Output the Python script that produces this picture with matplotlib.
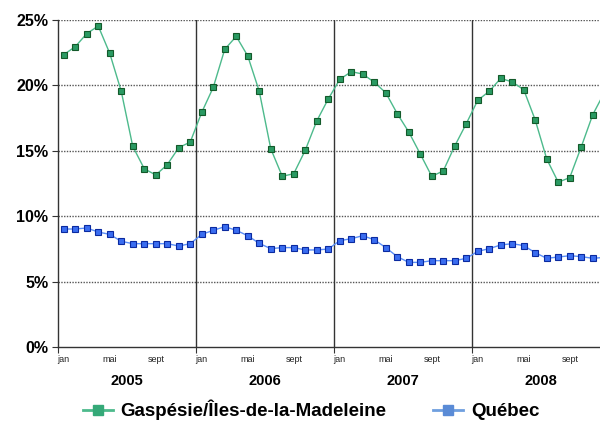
import numpy as np
import matplotlib
matplotlib.use('Agg')
import matplotlib.pyplot as plt
from matplotlib.lines import Line2D

plt.rcParams['font.family'] = ['Liberation Sans', 'DejaVu Sans']

# monthly rates, jan 2005 to dec 2008 (%)
years = ['2005', '2006', '2007', '2008']
month_labels = ['jan', 'mai', 'sept']
gaspesie = [22.35, 22.96, 23.96, 24.54, 22.45, 19.55, 15.34, 13.63, 13.15, 13.94, 15.24, 15.67,
            17.94, 19.85, 22.76, 23.75, 22.25, 19.55, 15.16, 13.05, 13.25, 15.04, 17.28, 18.96,
            20.46, 21.05, 20.87, 20.24, 19.44, 17.84, 16.44, 14.76, 13.05, 13.46, 15.37, 17.07,
            18.86, 19.55, 20.54, 20.26, 19.67, 17.35, 14.37, 12.6, 12.95, 15.3, 17.76, 19.44]
quebec = [9.02, 9.02, 9.1, 8.79, 8.61, 8.08, 7.9, 7.9, 7.9, 7.9, 7.72, 7.9,
          8.61, 8.92, 9.2, 8.92, 8.51, 7.92, 7.52, 7.6, 7.6, 7.42, 7.42, 7.49,
          8.13, 8.28, 8.51, 8.2, 7.6, 6.91, 6.47, 6.47, 6.6, 6.6, 6.6, 6.78,
          7.31, 7.52, 7.8, 7.9, 7.75, 7.21, 6.78, 6.88, 6.98, 6.91, 6.78, 6.85]

x = np.arange(len(gaspesie))

fig = plt.figure(figsize=(6.0, 4.21), dpi=100)
ax = fig.add_axes([58/600, 74/421, 552/600, 327/421])

# grid
for v in [5, 10, 15, 20, 25]:
    ax.axhline(v, color='#555555', lw=1, ls=(0, (1, 1)), zorder=1)
for b in [11.5, 23.5, 35.5]:
    ax.axvline(b, color='#333333', lw=1, zorder=1)

ax.plot(x, gaspesie, color='#4dba8c', lw=1, marker='s', ms=4.5,
        mfc='#2a9a63', mec='#135a2a', mew=0.8, zorder=3, clip_on=True)
ax.plot(x, quebec, color='#5b8ff9', lw=1, marker='s', ms=4.5,
        mfc='#3a6df0', mec='#0b2aa0', mew=0.8, zorder=3)

ax.set_xlim(-0.5, 47.5)
ax.set_ylim(0, 25)
ax.set_yticks([0, 5, 10, 15, 20, 25])
ax.set_yticklabels(['0%', '5%', '10%', '15%', '20%', '25%'], fontsize=11.5, fontweight='bold')
ax.tick_params(axis='y', length=4, color='#333333', pad=3)

ax.set_xticks([-0.5, 11.5, 23.5, 35.5])
ax.set_xticklabels([])
ax.tick_params(axis='x', which='major', length=4, color='#333333')
minor = [12 * i + m for i in range(4) for m in (0, 4, 8)]
ax.set_xticks(minor, minor=True)
ax.set_xticklabels(month_labels * 4, minor=True, fontsize=6.5, color='#222222')
ax.tick_params(axis='x', which='minor', length=0, pad=6)

for i, yr in enumerate(years):
    ax.text(12 * i + 5.5, -0.105, yr, transform=ax.get_xaxis_transform(),
            ha='center', va='center', fontsize=10.5, fontweight='bold')

for s in ['top', 'right']:
    ax.spines[s].set_visible(False)
for s in ['left', 'bottom']:
    ax.spines[s].set_color('#333333')
    ax.spines[s].set_linewidth(1)

handles = [Line2D([], [], color='#4dba8c', lw=2, marker='s', ms=6.5, mfc='#35a978', mec='#35a978'),
           Line2D([], [], color='#6f9fdf', lw=2, marker='s', ms=6.5, mfc='#5a8bd6', mec='#5a8bd6')]
fig.legend(handles, ['Gaspésie/Îles-de-la-Madeleine', 'Québec'], loc='center',
           bbox_to_anchor=(311/600, 11/421), ncol=2, frameon=False, handlelength=1.6,
           handletextpad=0.4, columnspacing=2.5, prop={'size': 13.5, 'weight': 'bold'})

fig.savefig('out.png', dpi=100)
